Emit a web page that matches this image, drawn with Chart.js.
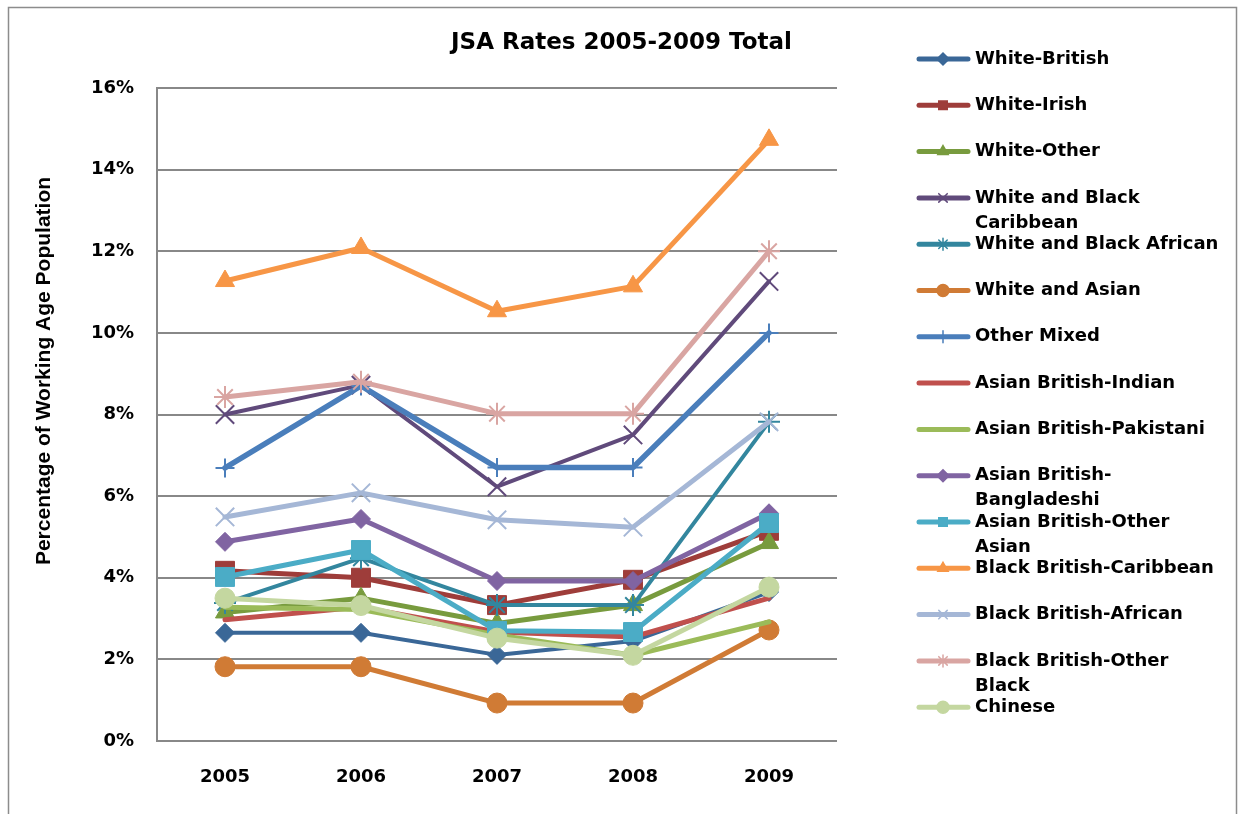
<!DOCTYPE html>
<html>
<head>
<meta charset="utf-8">
<script src="https://cdn.jsdelivr.net/npm/chart.js@4.4.1/dist/chart.umd.min.js"></script>
<style>
    html, body { margin: 0; padding: 0; background: #fff; overflow: hidden; }
    #grafico { display: block; }
</style>
</head>
<body>
<canvas id="grafico" width="1243" height="814"></canvas>
<script>
// dados (percentagem da populacao em idade ativa)
const anos = ["2005", "2006", "2007", "2008", "2009"]
const ticksY = [0, 2, 4, 6, 8, 10, 12, 14, 16]

// "\n" marca onde a legenda quebra a linha
const nomes = [
    "White-British",
    "White-Irish",
    "White-Other",
    "White and Black\nCaribbean",
    "White and Black African",
    "White and Asian",
    "Other Mixed",
    "Asian British-Indian",
    "Asian British-Pakistani",
    "Asian British-\nBangladeshi",
    "Asian British-Other\nAsian",
    "Black British-Caribbean",
    "Black British-African",
    "Black British-Other\nBlack",
    "Chinese"
]

const whiteBritish     = [2.65, 2.65, 2.11, 2.45, 3.65]
const whiteIrish       = [4.17, 4.00, 3.33, 3.95, 5.15]
const whiteOther       = [3.15, 3.50, 2.88, 3.33, 4.85]
const whiteBlackCarib  = [8.00, 8.72, 6.23, 7.50, 11.26]
const whiteBlackAfr    = [3.38, 4.48, 3.33, 3.33, 7.82]
const whiteAsian       = [1.82, 1.82, 0.93, 0.93, 2.72]
const otherMixed       = [6.69, 8.70, 6.70, 6.70, 10.00]
const asianIndian      = [2.97, 3.28, 2.67, 2.55, 3.50]
const asianPakistani   = [3.28, 3.22, 2.60, 2.10, 2.92]
const asianBangladeshi = [4.88, 5.44, 3.92, 3.92, 5.58]
const asianOther       = [4.02, 4.68, 2.70, 2.67, 5.34]
const blackCaribbean   = [11.27, 12.08, 10.53, 11.14, 14.73]
const blackAfrican     = [5.49, 6.08, 5.42, 5.24, 7.82]
const blackOther       = [8.43, 8.80, 8.02, 8.02, 12.00]
const chinese          = [3.50, 3.32, 2.52, 2.10, 3.77]

const series = [whiteBritish, whiteIrish, whiteOther, whiteBlackCarib, whiteBlackAfr,
    whiteAsian, otherMixed, asianIndian, asianPakistani, asianBangladeshi,
    asianOther, blackCaribbean, blackAfrican, blackOther, chinese]

// estilo de cada serie
const cores = ["#3A6797", "#9E3D3A", "#789B3E", "#604A7B", "#33869E", "#D07B35",
    "#4A7EBB", "#C0504D", "#9BBB59", "#8064A2", "#4BACC6", "#F79646",
    "#A5B7D6", "#D9A5A2", "#C4D7A0"]
const marcadores = ["rectRot", "rect", "triangle", "crossRot", "star", "circle",
    "cross", "circle", "circle", "rectRot", "rect", "triangle", "crossRot", "star", "circle"]
const raios = [9.5, 13.4, 11, 13, 11, 10, 9.5, 0, 0, 9.5, 13.4, 11, 13, 11, 10]
const espessuras = [4, 5, 5, 4, 4, 5, 5.5, 5, 5, 5, 5, 5, 5, 5, 5]

const tituloEixoY = "Percentage of Working Age Population"
const fonte = "'DejaVu Sans', Verdana, sans-serif"

const linhasLegenda = nomes.map(n => n.split("\n"))
const rotulos = nomes.map(n => n.replace("-\n", "-").replace("\n", " "))

const extras = {
    id: "extras",
    beforeDraw(chart) {
        const ctx = chart.ctx
        ctx.save()
        ctx.fillStyle = "#fff"
        ctx.fillRect(0, 0, chart.width, chart.height)
        ctx.strokeStyle = "#8c8c8c"
        ctx.lineWidth = 1.5
        ctx.strokeRect(8.5, 7.5, 1228, 830)
        ctx.restore()
    },
    afterDraw(chart) {
        const ctx = chart.ctx
        ctx.save()
        ctx.font = "bold 21px 'Liberation Sans', Arial, sans-serif"
        ctx.fillStyle = "#000"
        ctx.textAlign = "center"
        ctx.textBaseline = "middle"
        ctx.translate(44, 371)
        ctx.rotate(-Math.PI / 2)
        ctx.fillText(tituloEixoY, 0, 0)
        ctx.restore()

        chart.data.datasets.forEach((ds, i) => {
            const y = 59 + i * 46.3
            ctx.save()
            ctx.strokeStyle = ds.borderColor
            ctx.lineWidth = 5
            ctx.lineCap = "round"
            ctx.beginPath()
            ctx.moveTo(919, y)
            ctx.lineTo(968, y)
            ctx.stroke()
            if (ds.pointRadius > 0) {
                ctx.fillStyle = ds.borderColor
                ctx.lineWidth = 1.5
                Chart.helpers.drawPoint(ctx, { pointStyle: ds.pointStyle, radius: 6, borderWidth: 1.5, rotation: 0 }, 943, y)
            }
            ctx.fillStyle = "#000"
            ctx.font = "bold 18px " + fonte
            ctx.textAlign = "left"
            ctx.textBaseline = "middle"
            linhasLegenda[i].forEach((t, k) => ctx.fillText(t, 975, y + k * 25))
            ctx.restore()
        })
    }
}

const n = series.length
const datasets = series.map((valores, i) => ({
    label: rotulos[i],
    data: valores,
    borderColor: cores[i],
    backgroundColor: cores[i],
    borderWidth: espessuras[i],
    borderJoinStyle: "round",
    borderCapStyle: "round",
    pointStyle: marcadores[i],
    pointRadius: raios[i],
    pointHoverRadius: raios[i],
    pointBackgroundColor: cores[i],
    pointBorderColor: cores[i],
    pointBorderWidth: ["crossRot", "star", "cross"].includes(marcadores[i]) ? 2 : 1,
    tension: 0,
    order: n - i
}))

const grade = "#888888"

new Chart(document.getElementById("grafico"), {
    type: "line",
    data: { labels: anos, datasets },
    options: {
        responsive: false,
        animation: false,
        events: [],
        layout: { padding: { left: 0, right: 0, top: 0, bottom: 0 } },
        plugins: {
            legend: { display: false },
            tooltip: { enabled: false },
            title: {
                display: true,
                text: "JSA Rates 2005-2009 Total",
                color: "#000",
                font: { family: fonte, size: 23, weight: "bold" },
                padding: { top: 29, bottom: 31.4 }
            }
        },
        scales: {
            x: {
                offset: true,
                grid: { display: false, drawTicks: false },
                border: { display: false },
                ticks: {
                    color: "#000",
                    padding: 26,
                    font: { family: fonte, size: 18, weight: "bold" }
                },
                afterFit(s) { s.height = 73 }
            },
            y: {
                min: 0,
                max: 16,
                afterBuildTicks(s) { s.ticks = ticksY.map(v => ({ value: v })) },
                grid: { color: grade, lineWidth: 2, drawTicks: false },
                border: { display: true, color: grade, width: 2 },
                ticks: {
                    color: "#000",
                    padding: 23,
                    font: { family: fonte, size: 18, weight: "bold" },
                    callback: v => v + "%"
                },
                afterFit(s) { s.width = 157 }
            },
            espaco: {
                type: "linear",
                position: "right",
                display: true,
                grid: { display: false, drawTicks: false },
                border: { display: false },
                ticks: { display: false },
                afterFit(s) { s.width = 406 }
            }
        }
    },
    plugins: [extras]
})
</script>
</body>
</html>
